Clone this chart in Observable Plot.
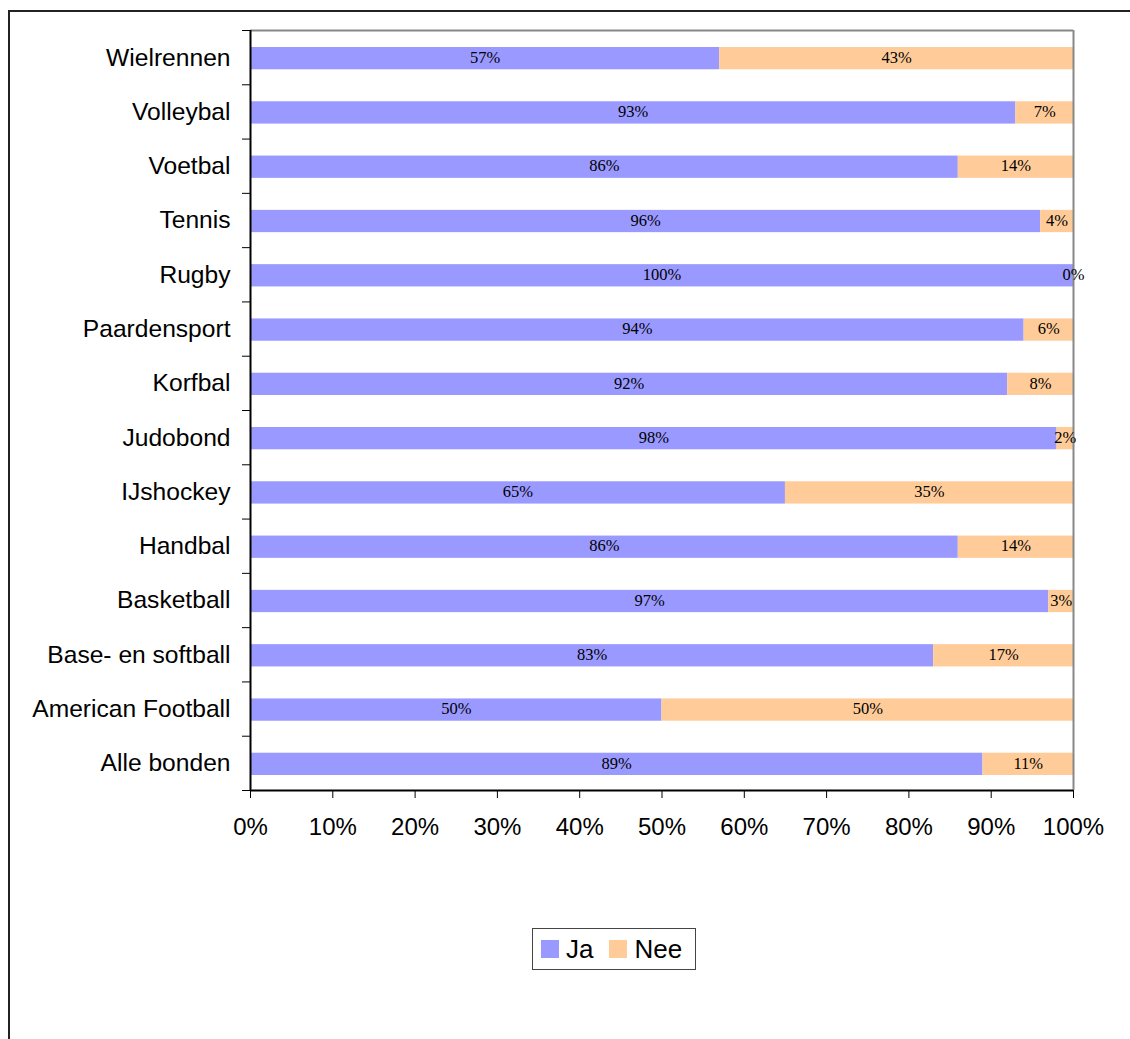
<!DOCTYPE html>
<html>
<head>
<meta charset="utf-8">
<script src="https://cdn.jsdelivr.net/npm/d3@7"></script>
<script src="https://cdn.jsdelivr.net/npm/@observablehq/plot@0.6"></script>
<style>
  html, body { margin: 0; padding: 0; background: #fff; overflow: hidden; }
  #wrap { position: relative; width: 1130px; height: 1039px; }
  #frame { position: absolute; left: 8px; top: 10px; width: 1200px; height: 1100px;
           border-left: 2px solid #222; border-top: 2px solid #222; box-sizing: border-box; }
  #chart { position: absolute; left: 0; top: 0; }
  #legend { position: absolute; left: 532px; top: 928px; width: 164px; height: 42px;
            border: 1.5px solid #444; box-sizing: border-box; background: #fff;
            font-family: "Liberation Sans", Arial, sans-serif; font-size: 26px;
            display: flex; align-items: center; padding-left: 8px; gap: 0; }
  .item { display: flex; align-items: center; margin-right: 16px; }
  .sw { width: 18px; height: 18px; margin-right: 7px; }
</style>
</head>
<body>
<div id="wrap">
  <div id="frame"></div>
  <div id="chart"></div>
  <div id="legend"></div>
</div>
<script>
const categories = ["Wielrennen","Volleybal","Voetbal","Tennis","Rugby","Paardensport","Korfbal","Judobond","IJshockey","Handbal","Basketball","Base- en softball","American Football","Alle bonden"];
const ja  = [57,93,86,96,100,94,92,98,65,86,97,83,50,89];
const nee = [43,7,14,4,0,6,8,2,35,14,3,17,50,11];
const seriesNames = ["Ja","Nee"];
const seriesColors = ["#9999FF","#FFCC99"];
const xTicks = [0,10,20,30,40,50,60,70,80,90,100];

const rows = [];
categories.forEach((c, i) => {
  rows.push({cat: c, i, series: "Ja", x1: 0, x2: ja[i], v: ja[i], mid: ja[i] / 2});
  rows.push({cat: c, i, series: "Nee", x1: ja[i], x2: ja[i] + nee[i], v: nee[i], mid: ja[i] + nee[i] / 2});
});

const chart = Plot.plot({
  width: 1130,
  height: 1039,
  marginLeft: 250,
  marginRight: 57,
  marginTop: 30,
  marginBottom: 249,
  style: {fontFamily: "'Liberation Sans', Arial, sans-serif", fontSize: "24px", background: "transparent", color: "#000"},
  x: {domain: [0, 100]},
  y: {domain: [0, categories.length], reverse: true},
  color: {domain: seriesNames, range: seriesColors},
  marks: [
    Plot.rectX(rows, {x1: "x1", x2: "x2", y1: d => d.i, y2: d => d.i + 1, fill: "series", insetTop: 17, insetBottom: 15}),
    Plot.ruleY([0], {stroke: "#888", strokeWidth: 2}),
    Plot.ruleX([100], {stroke: "#888", strokeWidth: 2}),
    Plot.ruleX([0], {stroke: "#000", strokeWidth: 2}),
    Plot.ruleY([categories.length], {stroke: "#000", strokeWidth: 2}),
    Plot.axisY(d3.range(categories.length + 1), {tickSize: 8, tickFormat: () => "", stroke: "#000"}),
    Plot.axisX(xTicks, {tickSize: 8, tickPadding: 19, tickFormat: d => d + "%", fontSize: 24, stroke: "#000"}),
    Plot.text(categories, {x: 0, y: (d, i) => i + 0.5, text: d => d, textAnchor: "end", dx: -20, fontSize: 24.6, fill: "#000"}),
    Plot.text(rows, {x: "mid", y: d => d.i + 0.5, text: d => d.v + "%", fontSize: 16.5, fontFamily: "'Liberation Serif', 'Times New Roman', serif", fill: "#000"})
  ]
});
document.getElementById("chart").appendChild(chart);

const legend = document.getElementById("legend");
seriesNames.forEach((s, k) => {
  const it = document.createElement("div");
  it.className = "item";
  const sw = document.createElement("div");
  sw.className = "sw";
  sw.style.background = seriesColors[k];
  const t = document.createElement("span");
  t.textContent = s;
  it.appendChild(sw); it.appendChild(t);
  legend.appendChild(it);
});
</script>
</body>
</html>
